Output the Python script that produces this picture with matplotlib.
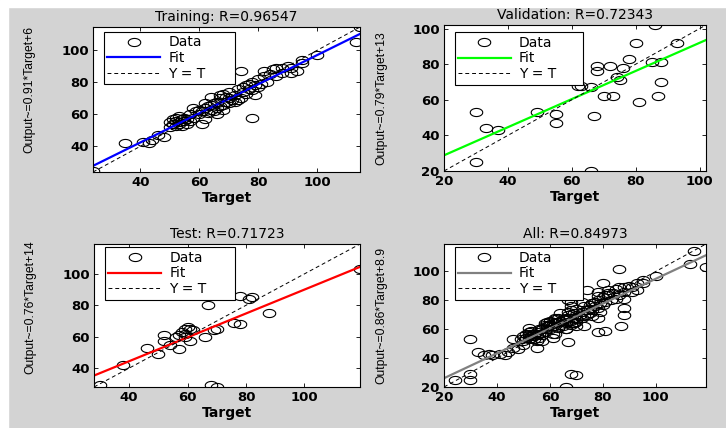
import numpy as np
import matplotlib
matplotlib.use('Agg')
import matplotlib.pyplot as plt
from matplotlib.path import Path
from matplotlib.patches import Rectangle

titles = ['Training', 'Validation', 'Test', 'All']
r_values = [0.96547, 0.72343, 0.71723, 0.84973]
fit_slopes = [0.91, 0.79, 0.76, 0.86]
fit_intercepts = [6, 13, 14, 8.9]
fit_colors = ['#0000ff', '#00ff00', '#ff0000', '#808080']

train_target = [24, 35, 41, 43, 44, 46, 48, 50, 50, 51, 51, 52, 52, 52, 53, 53, 54, 54, 55, 55,
                56, 56, 57, 58, 59, 60, 60, 61, 61, 62, 62, 63, 63, 64, 64, 65, 65, 66, 66, 66,
                67, 67, 67, 68, 68, 68, 69, 69, 70, 70, 71, 72, 72, 73, 74, 74, 75, 75, 76, 76,
                77, 78, 78, 78, 79, 79, 80, 80, 81, 82, 82, 83, 84, 85, 86, 88, 88, 90, 91, 93,
                91, 95, 95, 100, 113, 114.5, 58, 57, 53, 64, 62, 70, 73, 86, 77]
train_output = [24.5, 42, 43, 42, 44, 47, 46, 52, 55, 54, 57, 53, 56, 58, 55, 54, 57, 53, 56, 58,
                57, 54, 60, 58, 62, 60, 63, 54, 62, 57, 64, 61, 65, 63, 66, 62, 67, 64, 68, 60,
                65, 70, 72, 63, 66, 73, 68, 71, 67, 70, 69, 72, 68, 76, 70, 87, 74, 77, 73, 78,
                76, 58, 75, 80, 72, 78, 77, 82, 79, 84, 87, 80, 85, 88, 89, 86, 89, 90, 89, 87,
                86, 94, 92, 97, 105, 114.5, 64, 56, 59, 71, 67, 74, 69, 84, 79]

val_target = [30, 33, 37, 30, 49, 55, 55, 62, 63, 66, 67, 66, 68, 68, 70, 72, 73, 74, 75, 76,
              78, 80, 81, 85, 86, 87, 88, 88, 93]
val_output = [53, 44, 43, 25, 53, 52, 47, 68, 68, 67, 51, 20, 79, 76, 62, 79, 62, 73, 71, 78,
              83, 92, 59, 81, 102, 62, 70, 81, 92]

test_target = [30, 38, 46, 50, 52, 52, 54, 57, 57, 58, 59, 59, 60, 61, 61, 59, 66, 67, 68, 70,
               69, 70, 76, 78, 78, 81, 82, 88, 119, 56, 62]
test_output = [29, 42, 53, 49, 61, 57, 55, 52, 61, 63, 65, 62, 66, 65, 57, 60, 60, 80, 29, 28,
               64, 65, 69, 68, 86, 84, 85, 75, 103, 60, 64]

all_target = train_target + val_target + test_target
all_output = train_output + val_output + test_output

# the screenshot is stretched sideways, so the circles look like ellipses
t = np.linspace(0, 2 * np.pi, 41)
ellipse = Path(np.column_stack([np.cos(t), 0.65 * np.sin(t)]))

fig = plt.figure(figsize=(7.26, 4.28), dpi=100)
fig.patch.set_facecolor('#d3d3d3')
fig.add_artist(Rectangle((0, 0), 8 / 726, 1, transform=fig.transFigure, color='white', zorder=-1))
fig.add_artist(Rectangle((0, 1 - 7 / 428), 1, 7 / 428, transform=fig.transFigure, color='white', zorder=-1))

positions = [[0.1281, 0.5981, 0.3678, 0.3388],
             [0.6116, 0.6005, 0.3609, 0.3411],
             [0.1295, 0.0958, 0.3664, 0.3341],
             [0.6116, 0.0958, 0.3609, 0.3341]]
targets = [train_target, val_target, test_target, all_target]
outputs = [train_output, val_output, test_output, all_output]
legend_top = [0.966, 0.95, 0.977, 0.977]
ylabel_y = [0.57, 0.50, 0.56, 0.50]

for i in range(4):
    ax = fig.add_axes(positions[i])
    target = targets[i]
    output = outputs[i]
    lo = min(min(target), min(output))
    hi = max(max(target), max(output))

    ax.plot(target, output, linestyle='none', marker=ellipse, ms=9,
            mfc='none', mec='k', mew=0.8, label='Data')
    xs = np.array([lo, hi])
    ax.plot(xs, fit_slopes[i] * xs + fit_intercepts[i], color=fit_colors[i], lw=1.6, label='Fit')
    ax.plot(xs, xs, color='k', lw=0.7, ls=(0, (4, 3)), label='Y = T')

    ax.set_xlim(lo, hi)
    ax.set_ylim(lo, hi)
    ticks = [v for v in range(20, int(hi) + 1, 20) if v >= lo]
    ax.set_xticks(ticks, [str(v) for v in ticks], fontweight='bold', fontsize=9.5)
    ax.set_yticks(ticks, [str(v) for v in ticks], fontweight='bold', fontsize=9.5)
    ax.tick_params(direction='in', top=True, right=True, length=3, width=0.6, pad=3)
    for s in ax.spines.values():
        s.set_linewidth(0.8)

    ax.set_title('%s: R=%.5f' % (titles[i], r_values[i]), fontsize=10, pad=4)
    ax.set_xlabel('Target', fontsize=10, fontweight='bold', labelpad=1)
    ax.set_ylabel('Output~=%g*Target+%g' % (fit_slopes[i], fit_intercepts[i]),
                  family='Liberation Sans', fontsize=8.7)
    ax.yaxis.set_label_coords(-0.215, ylabel_y[i])

    leg = ax.legend(loc='upper left', bbox_to_anchor=(0.04, legend_top[i] - 0.4, 0.49, 0.4),
                    mode='expand', borderaxespad=0, fancybox=False, edgecolor='k',
                    framealpha=1, fontsize=10, handlelength=3.8, handletextpad=0.6,
                    labelspacing=0.12, borderpad=0.25)
    leg.get_frame().set_linewidth(0.8)

fig.savefig('out.png', dpi=100, facecolor=fig.get_facecolor())
